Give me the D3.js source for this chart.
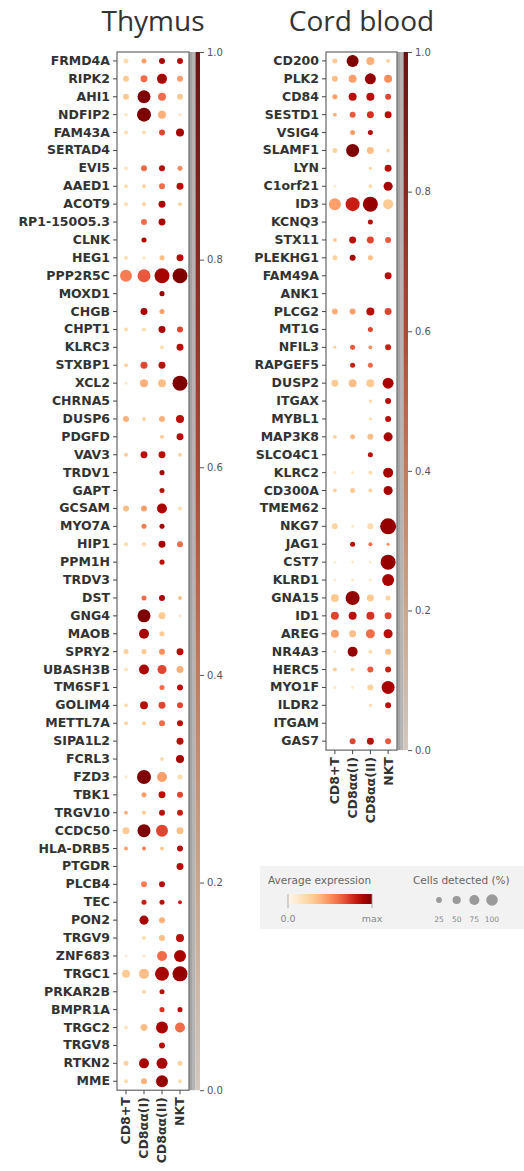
<!DOCTYPE html>
<html><head><meta charset="utf-8">
<script src="https://cdn.jsdelivr.net/npm/d3@7"></script>
<style>body{margin:0;background:#fff}</style>
</head><body><svg id="chart" width="524" height="1171"></svg>
<script>
const cellTypes = ["CD8+T","CD8αα(I)","CD8αα(II)","NKT"];

const thymusGenes = ["FRMD4A","RIPK2","AHI1","NDFIP2","FAM43A","SERTAD4","EVI5","AAED1","ACOT9","RP1-150O5.3","CLNK","HEG1","PPP2R5C","MOXD1","CHGB","CHPT1","KLRC3","STXBP1","XCL2","CHRNA5","DUSP6","PDGFD","VAV3","TRDV1","GAPT","GCSAM","MYO7A","HIP1","PPM1H","TRDV3","DST","GNG4","MAOB","SPRY2","UBASH3B","TM6SF1","GOLIM4","METTL7A","SIPA1L2","FCRL3","FZD3","TBK1","TRGV10","CCDC50","HLA-DRB5","PTGDR","PLCB4","TEC","PON2","TRGV9","ZNF683","TRGC1","PRKAR2B","BMPR1A","TRGC2","TRGV8","RTKN2","MME"];
// relative average expression (0..1) per cell type
const thymusExpr = [
[.2,.45,.9,.85],[.3,.6,.9,.45],[.3,1,.6,.3],[.12,1,.4,.1],[.2,.2,.7,.9],[0,0,0,0],[.15,.6,.85,.5],
[.2,.25,.6,.85],[.2,.25,.9,.25],[0,.6,.9,0],[0,.9,0,0],[.2,.15,.35,.85],[.55,.65,.9,1],[0,0,.95,0],
[0,.9,.45,0],[.2,.2,.9,.7],[0,0,.2,.85],[.25,.7,.85,0],[.1,.4,.35,1],[0,0,0,0],[.4,.25,.4,.85],
[0,0,.3,.85],[.3,.85,.85,.25],[0,0,.9,0],[0,0,.85,0],[.35,.45,.9,.2],[0,.55,.9,0],[.2,.25,.9,.6],
[0,0,.85,0],[0,0,0,0],[0,.6,.9,.35],[0,1,.3,.12],[0,.9,.3,0],[.25,.3,.5,.85],[.15,.9,.7,.4],
[0,0,.6,.85],[.2,.85,.7,.7],[.25,.3,.6,.85],[0,0,0,.85],[0,0,.2,.9],[.1,1,.45,.2],[0,.45,.85,.7],
[.4,.3,.85,.8],[.3,1,.7,.35],[.45,.55,.3,.85],[0,0,0,.85],[0,.55,.85,0],[0,.8,.85,.8],[0,.9,.4,0],
[0,.2,.35,.85],[.08,.12,.6,.9],[.3,.35,.9,.95],[0,.25,.85,0],[0,0,.75,.85],[.15,.35,.9,.6],
[0,0,.85,0],[.25,.9,.9,.25],[.2,.4,.95,.2]];
// cells detected (%) per cell type
const thymusPct = [
[10,10,14,14],[14,19,39,14],[14,66,25,14],[6,77,25,6],[6,6,14,25],[0,0,0,0],[6,14,14,10],
[6,6,14,19],[6,6,19,6],[0,14,19,0],[0,10,0,0],[6,4,10,19],[56,66,88,88],[0,0,10,0],
[0,19,10,0],[6,6,19,14],[0,0,6,19],[6,19,19,0],[4,25,25,88],[0,0,0,0],[14,6,14,25],
[0,0,6,19],[6,19,19,6],[0,0,10,0],[0,0,10,0],[14,14,39,6],[0,10,10,0],[6,6,19,14],
[0,0,10,0],[0,0,0,0],[0,10,14,6],[0,66,19,4],[0,39,10,0],[10,10,14,19],[6,39,32,19],
[0,0,10,14],[6,25,19,14],[6,6,14,14],[0,0,0,19],[0,0,6,25],[4,77,39,10],[0,10,19,14],
[6,6,14,14],[19,66,56,19],[6,6,6,14],[0,0,0,19],[0,14,14,0],[0,10,10,6],[0,32,14,0],
[0,6,14,25],[4,4,39,56],[25,39,77,88],[0,6,10,0],[0,0,10,10],[6,19,56,39],
[0,0,14,0],[10,39,47,10],[6,14,56,6]];

const cordGenes = ["CD200","PLK2","CD84","SESTD1","VSIG4","SLAMF1","LYN","C1orf21","ID3","KCNQ3","STX11","PLEKHG1","FAM49A","ANK1","PLCG2","MT1G","NFIL3","RAPGEF5","DUSP2","ITGAX","MYBL1","MAP3K8","SLCO4C1","KLRC2","CD300A","TMEM62","NKG7","JAG1","CST7","KLRD1","GNA15","ID1","AREG","NR4A3","HERC5","MYO1F","ILDR2","ITGAM","GAS7"];
const cordExpr = [
[.3,1,.4,.25],[.35,.45,.95,.5],[.45,.85,.85,.7],[.4,.65,.75,.85],[0,.45,.85,0],[.25,1,.35,.2],
[0,0,.25,.85],[.12,0,.2,.9],[.45,.8,.95,.3],[0,0,.85,0],[.3,.85,.7,.65],[.25,.9,.35,0],
[0,0,0,.85],[0,0,0,0],[.4,.45,.85,.7],[0,0,.7,0],[.25,.65,.5,.8],[0,.8,.6,0],[.3,.35,.3,.9],
[0,0,.25,.85],[0,0,.2,.85],[.25,.35,.35,.9],[0,0,.85,0],[.12,.12,.2,.9],[.25,.3,.25,.9],
[0,0,0,0],[.25,.1,.2,.95],[0,.85,.6,.5],[.08,.08,.1,.95],[.1,.1,.1,.9],[.3,.95,.3,.25],
[.7,.85,.75,.7],[.45,.35,.6,.85],[.12,.95,.2,.35],[.3,.2,.65,.8],[.12,.1,.25,.9],
[0,0,.2,.85],[0,0,0,0],[0,.7,.85,.65]];
const cordPct = [
[10,56,25,6],[14,25,47,25],[10,25,25,14],[6,14,19,19],[0,10,10,0],[10,66,19,6],
[0,0,4,19],[4,0,6,32],[56,77,88,39],[0,0,10,0],[6,19,19,14],[10,14,10,0],
[0,0,0,19],[0,0,0,0],[14,14,25,19],[0,0,10,0],[4,10,6,14],[0,10,10,0],[19,25,25,47],
[0,0,4,14],[0,0,4,14],[6,10,14,32],[0,0,10,0],[4,4,6,39],[6,10,6,32],
[0,0,0,0],[14,4,14,100],[0,10,6,4],[4,4,4,88],[4,4,4,56],[25,77,19,10],
[25,25,25,19],[25,19,32,32],[4,39,6,14],[6,6,14,14],[4,4,14,66],
[0,0,4,14],[0,0,0,0],[0,14,19,14]];

const colorbarTicks = [0,0.2,0.4,0.6,0.8,1.0];
const legendPct = [25,50,75,100];
const legendExprLabels = ["0.0","max"];

const svg = d3.select("#chart");
const color = d3.scaleSequential(d3.interpolateOrRd).domain([0,1]);
const size = d3.scaleSqrt().domain([0,100]).range([0,8]);
const barColor = d3.scaleLinear().domain(colorbarTicks)
  .range(["#d2c8bf","#c9a78d","#c07c5e","#ad4936","#8a2922","#681313"]);

const defs = svg.append("defs");
const cbg = defs.append("linearGradient").attr("id","cbgrad")
  .attr("x1",0).attr("y1",1).attr("x2",0).attr("y2",0);
colorbarTicks.forEach(t=>cbg.append("stop").attr("offset",t).attr("stop-color",barColor(t)));
const lg = defs.append("linearGradient").attr("id","lgrad");
d3.range(0,1.01,0.1).forEach(t=>lg.append("stop").attr("offset",t).attr("stop-color",color(t)));

const ROW = 17.9;
function panel(title, genes, expr, pct, x0, x1, top){
  const bottom = top + genes.length*ROW;
  const g = svg.append("g");
  const x = d3.scaleBand().domain(cellTypes).range([x0,x1]);
  const y = d3.scaleBand().domain(genes).range([top,bottom]);
  g.append("text").attr("x",(x0+x1)/2).attr("y",31).attr("text-anchor","middle")
    .attr("font-family","Open Sans").attr("font-size",28).attr("fill","#333").text(title);
  // colorbar
  g.append("rect").attr("x",x1).attr("y",top).attr("width",6.5).attr("height",bottom-top)
    .attr("fill","#b4b4b4");
  g.append("line").attr("x1",x1+2).attr("x2",x1+2).attr("y1",top).attr("y2",bottom).attr("stroke","#8a8a8a").attr("stroke-width",0.8);
  g.append("rect").attr("x",x1+6.5).attr("y",top).attr("width",4.5).attr("height",bottom-top)
    .attr("fill","url(#cbgrad)");
  const cy = d3.scaleLinear().domain([0,1]).range([bottom,top]);
  const cax = g.append("g").attr("transform",`translate(${x1+11},0)`)
    .call(d3.axisRight(cy).tickValues(colorbarTicks).tickFormat(d3.format(".1f")).tickSize(4).tickPadding(3));
  cax.select(".domain").remove();
  cax.selectAll("line").attr("stroke","#555");
  cax.selectAll("text").attr("font-family","DejaVu Sans").attr("font-size",10).attr("fill","#555");
  // frame
  g.append("rect").attr("x",x0).attr("y",top).attr("width",x1-x0).attr("height",bottom-top)
    .attr("fill","#fff").attr("stroke","#666").attr("stroke-width",1.2);
  // dots
  genes.forEach((gn,i)=>{
    cellTypes.forEach((c,j)=>{
      if(pct[i][j]>0){
        g.append("circle").attr("cx",x(c)+x.bandwidth()/2).attr("cy",y(gn)+y.bandwidth()/2)
          .attr("r",size(pct[i][j])).attr("fill",color(expr[i][j]));
      }
    });
  });
  const yax = g.append("g").attr("transform",`translate(${x0},0)`)
    .call(d3.axisLeft(y).tickSize(4).tickPadding(3));
  yax.select(".domain").remove();
  yax.selectAll("line").attr("stroke","#444");
  yax.selectAll("text").attr("font-family","DejaVu Sans").attr("font-weight","bold")
    .attr("font-size",12.5).attr("fill","#333");
  const xax = g.append("g").attr("transform",`translate(0,${bottom})`)
    .call(d3.axisBottom(x).tickSize(4).tickPadding(3));
  xax.select(".domain").remove();
  xax.selectAll("line").attr("stroke","#444");
  xax.selectAll("text").attr("transform","rotate(-90)").attr("text-anchor","end")
    .attr("x",-7).attr("y",0).attr("dy","0.35em")
    .attr("font-family","DejaVu Sans").attr("font-weight","bold").attr("font-size",12.5).attr("fill","#333");
}
panel("Thymus", thymusGenes, thymusExpr, thymusPct, 117, 189, 52);
panel("Cord blood", cordGenes, cordExpr, cordPct, 326, 397, 52);

// legend
const L = svg.append("g");
L.append("rect").attr("x",260).attr("y",866).attr("width",270).attr("height",63).attr("fill","#f2f2f2");
L.append("text").attr("x",268).attr("y",884).attr("font-family","DejaVu Sans").attr("font-size",10.5)
  .attr("fill","#666").text("Average expression");
const lx = d3.scaleLinear().domain([0,1]).range([288,372]);
L.append("rect").attr("x",lx(0)).attr("y",894).attr("width",lx(1)-lx(0)).attr("height",10).attr("fill","url(#lgrad)");
[0,1].forEach((t,i)=>{
  L.append("line").attr("x1",lx(t)).attr("x2",lx(t)).attr("y1",894).attr("y2",908).attr("stroke","#999").attr("stroke-width",0.8);
  L.append("text").attr("x",lx(t)).attr("y",922).attr("text-anchor","middle").attr("font-family","DejaVu Sans")
    .attr("font-size",9.5).attr("fill","#888").text(legendExprLabels[i]);
});
L.append("text").attr("x",413).attr("y",884).attr("font-family","DejaVu Sans").attr("font-size",10.5)
  .attr("fill","#666").text("Cells detected (%)");
const legSize = d3.scaleSqrt().domain([0,100]).range([0,5.8]);
const lp = d3.scalePoint().domain(legendPct).range([439,492]);
legendPct.forEach(p=>{
  L.append("circle").attr("cx",lp(p)).attr("cy",900).attr("r",legSize(p)).attr("fill","#9a9a9a");
  L.append("text").attr("x",lp(p)).attr("y",922).attr("text-anchor","middle").attr("font-family","DejaVu Sans")
    .attr("font-size",7.5).attr("fill","#888").text(p);
});
</script></body></html>
